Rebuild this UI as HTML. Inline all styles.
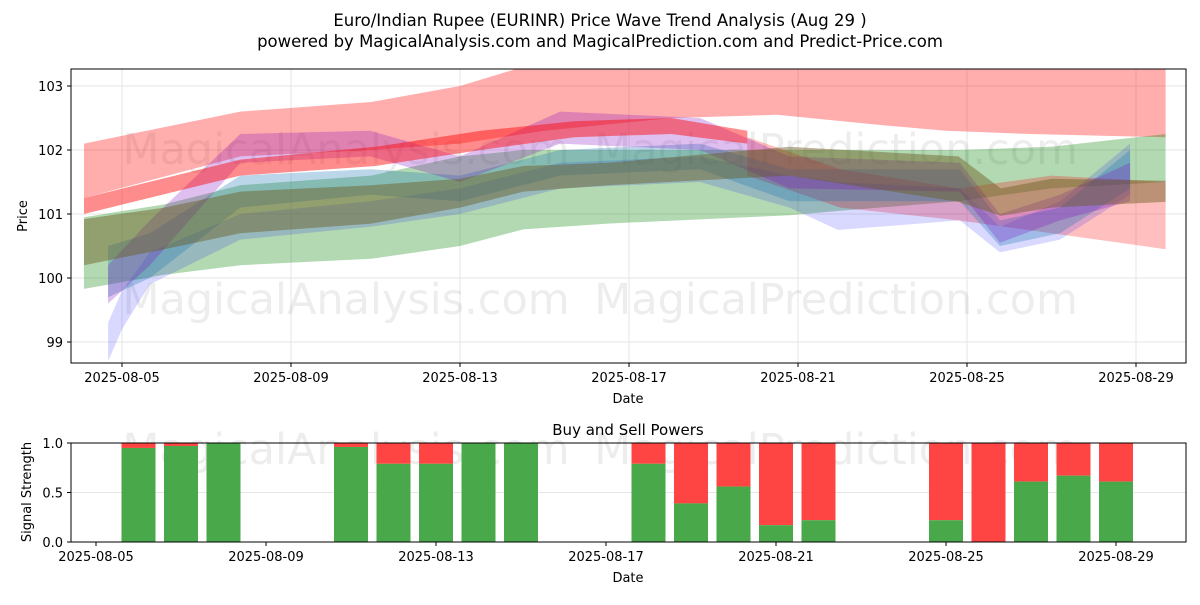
<!DOCTYPE html>
<html><head><meta charset="utf-8"><style>
body{margin:0;background:#fff}
svg{font-family:"DejaVu Sans","Liberation Sans",sans-serif}
</style></head><body>
<svg id="s" width="1200" height="600" viewBox="0 0 1200 600" xmlns="http://www.w3.org/2000/svg">
<rect width="1200" height="600" fill="#fff"/>
<defs><clipPath id="ct"><rect x="71" y="69" width="1115" height="294"/></clipPath></defs>
<text x="600" y="26" text-anchor="middle" font-size="16.5">Euro/Indian Rupee (EURINR) Price Wave Trend Analysis (Aug 29 )</text>
<text x="600" y="47" text-anchor="middle" font-size="16.5">powered by MagicalAnalysis.com and MagicalPrediction.com and Predict-Price.com</text>
<g id="topg"></g>
<g id="botg"></g>
</svg>
<script>
// ---- price chart data (day offsets from 2025-08-05) ----
const redWideDays=[-0.9,2.8,5.9,8,10,13,15.5,17.8,19.5,21.5,24.7];
const redWideHi=[102.1,102.6,102.75,103.0,103.4,103.6,103.6,103.5,103.4,103.3,103.3];
const redWideLo=[101.25,101.9,102.0,102.1,102.3,102.5,102.55,102.4,102.3,102.25,102.2];
const redNarDays=[-0.9,2.8,6,8.5,10.7,13,14.8];
const redNarHi=[101.25,101.85,102.05,102.3,102.45,102.5,102.3];
const redNarLo=[101.0,101.6,101.75,102.0,102.2,102.25,102.1];
const pinkDays=[14.8,17,19.8,22,24.7];
const pinkHi=[102.2,101.7,101.4,101.6,101.5];
const pinkLo=[101.6,101.1,100.9,100.7,100.45];
const greenDays=[-0.9,1,2.8,5.9,8,9.5,11.5,15.8,17,19.8,22,24.7];
const greenHi=[100.95,101.15,101.45,101.6,101.9,102.0,102.0,102.0,102.0,102.0,102.05,102.25];
const greenLo=[99.83,100.05,100.2,100.3,100.5,100.76,100.85,100.98,101.05,101.2,101.4,101.5];
const oliveDays=[-0.9,1,2.8,5.9,8,9.5,11.5,15.8,19.8,20.8,22,24.7];
const oliveHi=[100.92,101.1,101.35,101.45,101.55,101.75,101.8,102.05,101.9,101.4,101.55,101.52];
const oliveLo=[100.2,100.45,100.7,100.85,101.1,101.35,101.45,101.6,101.19,100.97,101.1,101.19];
const blueDays=[-0.33,0,0.66,2.8,5.87,8,10.37,13.68,15.8,16.95,19.83,20.78,22.2,23.86];
const blueHi=[99.3,99.8,100.4,101.0,101.2,101.4,101.8,101.9,101.6,101.5,101.4,100.8,101.2,102.1];
const blueLo=[98.7,99.2,99.9,100.6,100.8,101.0,101.4,101.5,101.1,100.75,100.9,100.4,100.6,101.3];
const purpDays=[-0.33,0.66,2.8,5.87,8,10.37,13.68,15.8,19.83,20.78,22.2,23.86];
const purpHi=[100.2,100.9,102.25,102.3,101.9,102.6,102.5,101.9,101.8,101.0,101.3,101.8];
const purpLo=[99.6,100.2,101.8,101.9,101.5,102.1,102.0,101.4,101.35,100.55,100.9,101.2];
const steelDays=[-0.33,0.66,2.8,5.87,8,10.37,13.68,15.8,19.83,20.78,22.2,23.86];
const steelHi=[100.5,100.7,101.6,101.7,101.6,102.0,102.1,101.7,101.7,100.9,101.1,102.0];
const steelLo=[99.7,100.0,101.1,101.3,101.2,101.6,101.7,101.2,101.2,100.5,100.7,101.4];
const yTicks=[99,100,101,102,103];
const xTickDays=[0,4,8,12,16,20,24];
const xTickLabels=["2025-08-05","2025-08-09","2025-08-13","2025-08-17","2025-08-21","2025-08-25","2025-08-29"];
// ---- signal chart data ----
const barDays=[1,2,3,6,7,8,9,10,13,14,15,16,17,20,21,22,23,24];
const buyVals=[0.95,0.97,1.0,0.96,0.79,0.79,1.0,1.0,0.79,0.39,0.56,0.17,0.22,0.22,0.0,0.61,0.67,0.61];
const sigTicks=[0,0.5,1.0];
const sigTickLabels=["0.0","0.5","1.0"];

const NS="http://www.w3.org/2000/svg";
function mk(p,t,a){const e=document.createElementNS(NS,t);for(const k in a)e.setAttribute(k,a[k]);p.appendChild(e);return e;}
const T={l:71,r:1186,t:69,b:363};
const xT=d=>122+42.25*d, yT=v=>86+(103-v)*64;
const B={l:71,r:1186,t:443,b:542};
const xB=d=>96+42.5*d, yB=v=>542-v*99;
const topG=document.getElementById('topg'), botG=document.getElementById('botg');
yTicks.forEach(v=>{const l=mk(topG,'line',{x1:T.l,x2:T.r,y1:yT(v),y2:yT(v),stroke:'#e6e6e6','stroke-width':1});

});
xTickDays.forEach(d=>{const l=mk(topG,'line',{x1:xT(d),x2:xT(d),y1:T.t,y2:T.b,stroke:'#e6e6e6','stroke-width':1});

});
function wm(g,y,n){
const a=mk(g,'text',{x:346,y:y,'text-anchor':'middle','font-size':43,fill:'rgba(0,0,0,0.07)'});a.textContent='MagicalAnalysis.com';


const b=mk(g,'text',{x:836,y:y,'text-anchor':'middle','font-size':43,fill:'rgba(0,0,0,0.07)'});b.textContent='MagicalPrediction.com';

}
wm(topG,164,'watermark-top');wm(topG,314,'watermark-mid');
const bands=mk(topG,'g',{'clip-path':'url(#ct)'});
function band(days,hi,lo,fill,op,name){let pts=days.map((d,i)=>xT(d)+','+yT(hi[i]));
for(let i=days.length-1;i>=0;i--)pts.push(xT(days[i])+','+yT(lo[i]));
const p=mk(bands,'polygon',{points:pts.join(' '),fill:fill,'fill-opacity':op});

}
band(redWideDays,redWideHi,redWideLo,'#ff0000',0.32,'red-wide-band');
band(greenDays,greenHi,greenLo,'#008000',0.3,'green-band');
band(pinkDays,pinkHi,pinkLo,'#ff0000',0.25,'pink-band');
band(blueDays,blueHi,blueLo,'#0000ff',0.15,'blue-band');
band(steelDays,steelHi,steelLo,'#1f77b4',0.3,'steel-band');
band(purpDays,purpHi,purpLo,'#8000c0',0.25,'purple-band');
band(redNarDays,redNarHi,redNarLo,'#ff0000',0.45,'red-narrow-band');
band(oliveDays,oliveHi,oliveLo,'#6b5a20',0.45,'olive-band');
const fr=mk(topG,'rect',{x:T.l,y:T.t,width:T.r-T.l,height:T.b-T.t,fill:'none',stroke:'#000','stroke-width':1});


yTicks.forEach(v=>{mk(topG,'line',{x1:T.l-4,x2:T.l,y1:yT(v),y2:yT(v),stroke:'#000'});
const t=mk(topG,'text',{x:T.l-8,y:yT(v)+5,'text-anchor':'end','font-size':13});t.textContent=v;

});
xTickDays.forEach((d,i)=>{mk(topG,'line',{x1:xT(d),x2:xT(d),y1:T.b,y2:T.b+4,stroke:'#000'});
const t=mk(topG,'text',{x:xT(d),y:T.b+19,'text-anchor':'middle','font-size':13});t.textContent=xTickLabels[i];

});
let tx=mk(topG,'text',{x:628,y:403,'text-anchor':'middle','font-size':13});tx.textContent='Date';


tx=mk(topG,'text',{x:27,y:216,'text-anchor':'middle','font-size':13,transform:'rotate(-90 27 216)'});tx.textContent='Price';


tx=mk(botG,'text',{x:628,y:435,'text-anchor':'middle','font-size':15});tx.textContent='Buy and Sell Powers';


sigTicks.forEach(v=>{const l=mk(botG,'line',{x1:B.l,x2:B.r,y1:yB(v),y2:yB(v),stroke:'#e6e6e6'});

});
wm(botG,464,'watermark-bottom');
barDays.forEach((d,i)=>{const x=xB(d)-17,w=34;
const s=mk(botG,'rect',{x:x,y:yB(1),width:w,height:yB(buyVals[i])-yB(1),fill:'#ff4444'});


const g=mk(botG,'rect',{x:x,y:yB(buyVals[i]),width:w,height:yB(0)-yB(buyVals[i]),fill:'#48a84a'});

});
const fb=mk(botG,'rect',{x:B.l,y:B.t,width:B.r-B.l,height:B.b-B.t,fill:'none',stroke:'#000'});


sigTicks.forEach((v,i)=>{mk(botG,'line',{x1:B.l-4,x2:B.l,y1:yB(v),y2:yB(v),stroke:'#000'});
const tt=mk(botG,'text',{x:B.l-8,y:yB(v)+5,'text-anchor':'end','font-size':13});tt.textContent=sigTickLabels[i];

});
xTickDays.forEach((d,i)=>{mk(botG,'line',{x1:xB(d),x2:xB(d),y1:B.b,y2:B.b+4,stroke:'#000'});
const tt=mk(botG,'text',{x:xB(d),y:B.b+19,'text-anchor':'middle','font-size':13});tt.textContent=xTickLabels[i];

});
tx=mk(botG,'text',{x:628,y:582,'text-anchor':'middle','font-size':13});tx.textContent='Date';


tx=mk(botG,'text',{x:31,y:492,'text-anchor':'middle','font-size':13,transform:'rotate(-90 31 492)'});tx.textContent='Signal Strength';


</script>
</body></html>
